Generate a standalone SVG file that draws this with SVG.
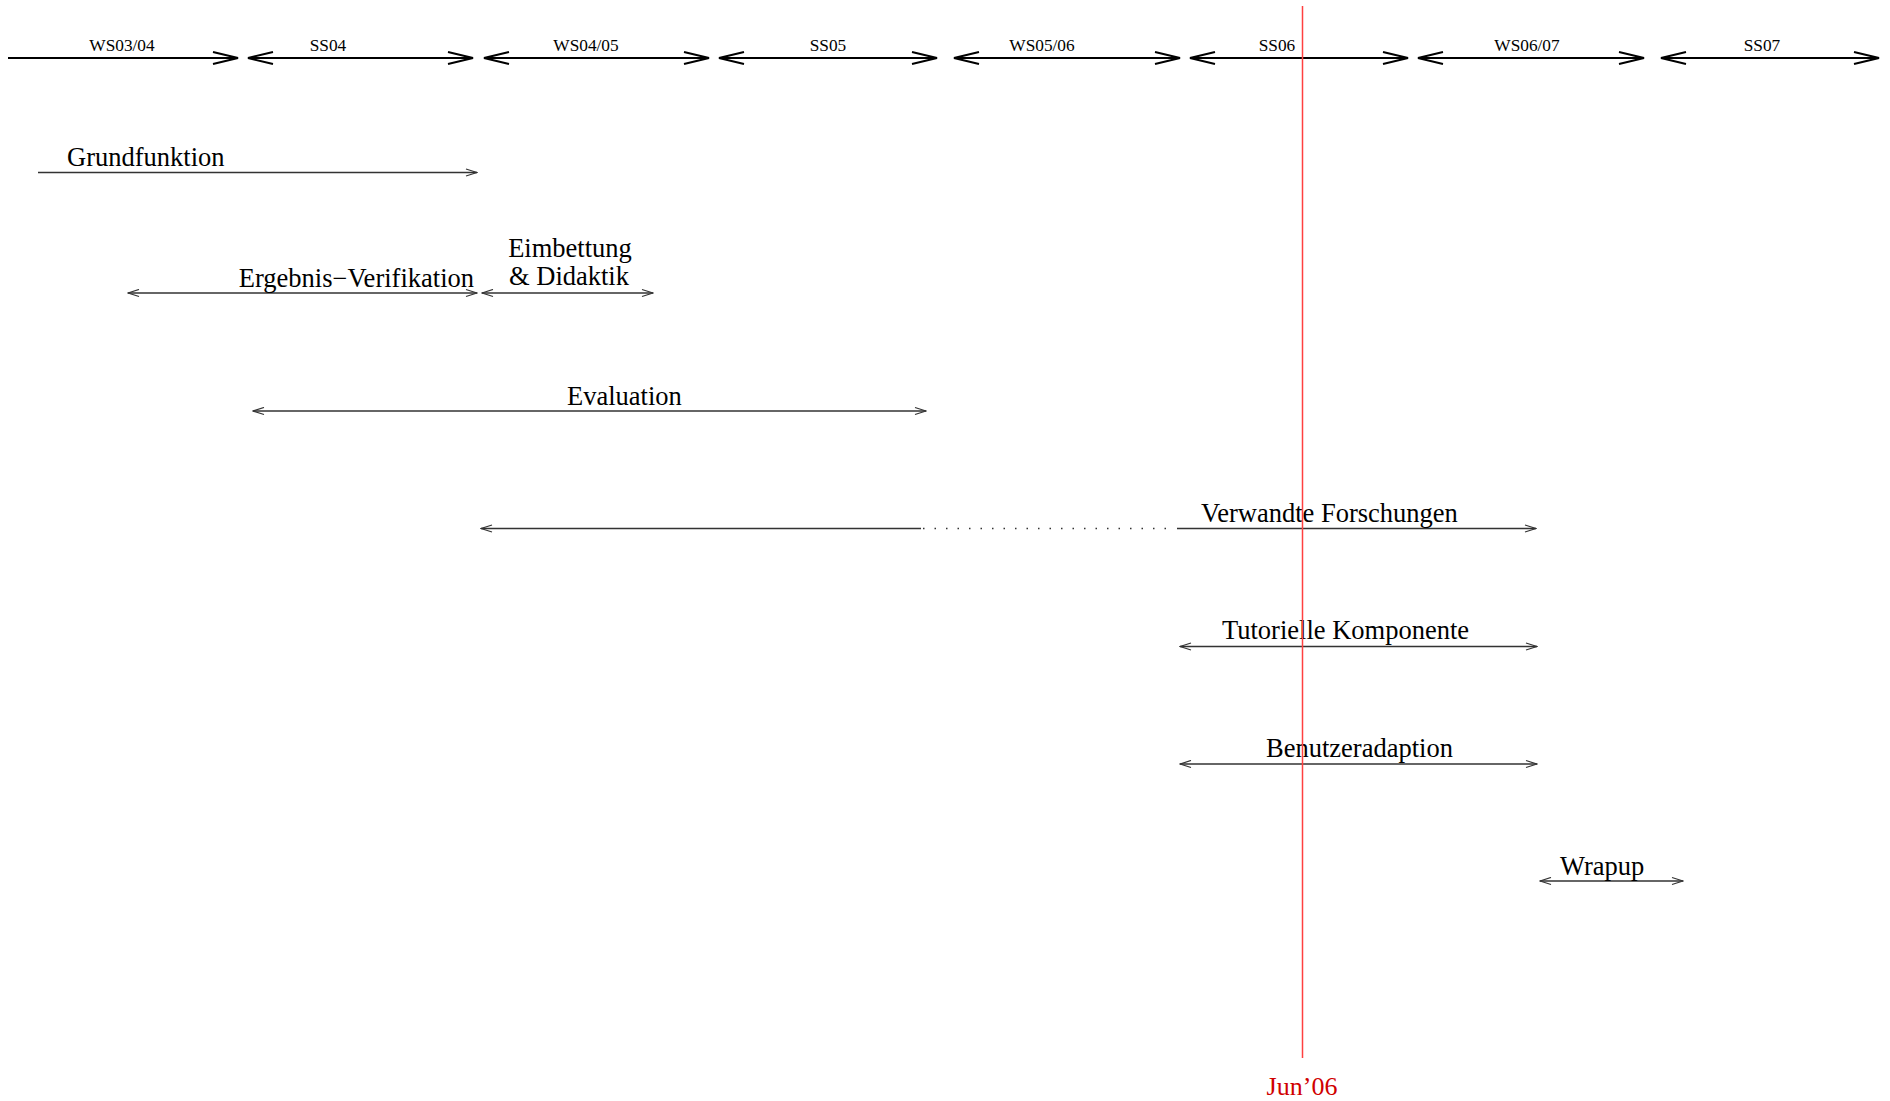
<svg xmlns="http://www.w3.org/2000/svg" width="1890" height="1101" viewBox="0 0 1890 1101">
<style>
text{font-family:"Liberation Serif","Times New Roman",serif;fill:#000}
.sem{font-size:17.3px;text-anchor:middle}
.lbl{font-size:26.5px}
.top{stroke:#000;stroke-width:2;fill:none}
.bar{stroke:#333;stroke-width:1.4;fill:none}
.now{stroke:#ff4040;stroke-width:1.5}
.nowt{font-size:26px;fill:#d00000;text-anchor:middle}
</style>
<defs>
<marker id="big" markerUnits="userSpaceOnUse" markerWidth="28" markerHeight="16" refX="25" refY="7" orient="auto-start-reverse" viewBox="-1 -1 28 16">
<path d="M0,1 L25,7 L0,13" fill="none" stroke="#000" stroke-width="2"/>
</marker>
<marker id="sm" markerUnits="userSpaceOnUse" markerWidth="13" markerHeight="10" refX="11" refY="4.5" orient="auto-start-reverse" viewBox="-1 -1 13 10">
<path d="M0,1 L11,4.5 L0,8" fill="none" stroke="#333" stroke-width="1.3"/>
</marker>
</defs>
<rect width="1890" height="1101" fill="#fff"/>
<g id="semesters">
<g id="ws0304"><line class="top" x1="8" y1="58" x2="238" y2="58" marker-end="url(#big)"/><text class="sem" x="122" y="51">WS03/04</text></g>
<g id="ss04"><line class="top" x1="248" y1="58" x2="473" y2="58" marker-start="url(#big)" marker-end="url(#big)"/><text class="sem" x="328" y="51">SS04</text></g>
<g id="ws0405"><line class="top" x1="484" y1="58" x2="709" y2="58" marker-start="url(#big)" marker-end="url(#big)"/><text class="sem" x="586" y="51">WS04/05</text></g>
<g id="ss05"><line class="top" x1="719" y1="58" x2="937" y2="58" marker-start="url(#big)" marker-end="url(#big)"/><text class="sem" x="828" y="51">SS05</text></g>
<g id="ws0506"><line class="top" x1="954" y1="58" x2="1180" y2="58" marker-start="url(#big)" marker-end="url(#big)"/><text class="sem" x="1042" y="51">WS05/06</text></g>
<g id="ss06"><line class="top" x1="1190" y1="58" x2="1408" y2="58" marker-start="url(#big)" marker-end="url(#big)"/><text class="sem" x="1277" y="51">SS06</text></g>
<g id="ws0607"><line class="top" x1="1418" y1="58" x2="1644" y2="58" marker-start="url(#big)" marker-end="url(#big)"/><text class="sem" x="1527" y="51">WS06/07</text></g>
<g id="ss07"><line class="top" x1="1661" y1="58" x2="1879" y2="58" marker-start="url(#big)" marker-end="url(#big)"/><text class="sem" x="1762" y="51">SS07</text></g>
</g>
<g id="connectors">
<line class="bar" x1="38" y1="172.5" x2="477" y2="172.5" marker-end="url(#sm)"/>
<line class="bar" x1="128" y1="293" x2="477" y2="293" marker-start="url(#sm)" marker-end="url(#sm)"/>
<line class="bar" x1="482" y1="293" x2="653" y2="293" marker-start="url(#sm)" marker-end="url(#sm)"/>
<line class="bar" x1="253" y1="411" x2="926" y2="411" marker-start="url(#sm)" marker-end="url(#sm)"/>
<line class="bar" x1="481" y1="528.5" x2="921" y2="528.5" marker-start="url(#sm)"/>
<line class="bar" x1="923" y1="528.5" x2="1175" y2="528.5" stroke-dasharray="1.5 10" stroke="#777"/>
<line class="bar" x1="1177" y1="528.5" x2="1536" y2="528.5" marker-end="url(#sm)"/>
<line class="bar" x1="1180" y1="646.5" x2="1537" y2="646.5" marker-start="url(#sm)" marker-end="url(#sm)"/>
<line class="bar" x1="1180" y1="764" x2="1537" y2="764" marker-start="url(#sm)" marker-end="url(#sm)"/>
<line class="bar" x1="1540" y1="881" x2="1683" y2="881" marker-start="url(#sm)" marker-end="url(#sm)"/>
</g>
<g id="grundfunktion"><text class="lbl" x="67" y="166">Grundfunktion</text></g>
<g id="ergebnis"><text class="lbl" x="474" y="287" text-anchor="end">Ergebnis−Verifikation</text></g>
<g id="eimbettung"><text class="lbl" x="570" y="257" text-anchor="middle">Eimbettung</text><text class="lbl" x="569" y="285" text-anchor="middle">&amp; Didaktik</text></g>
<g id="evaluation"><text class="lbl" x="567" y="405">Evaluation</text></g>
<g id="verwandte"><text class="lbl" x="1201" y="522">Verwandte Forschungen</text></g>
<g id="tutorielle"><text class="lbl" x="1222" y="639">Tutorielle Komponente</text></g>
<g id="benutzer"><text class="lbl" x="1266" y="757">Benutzeradaption</text></g>
<g id="wrapup"><text class="lbl" x="1560" y="875">Wrapup</text></g>
<g id="now">
<line class="now" x1="1302.5" y1="6" x2="1302.5" y2="1058"/>
<text class="nowt" x="1302" y="1095">Jun’06</text>
</g>
</svg>
